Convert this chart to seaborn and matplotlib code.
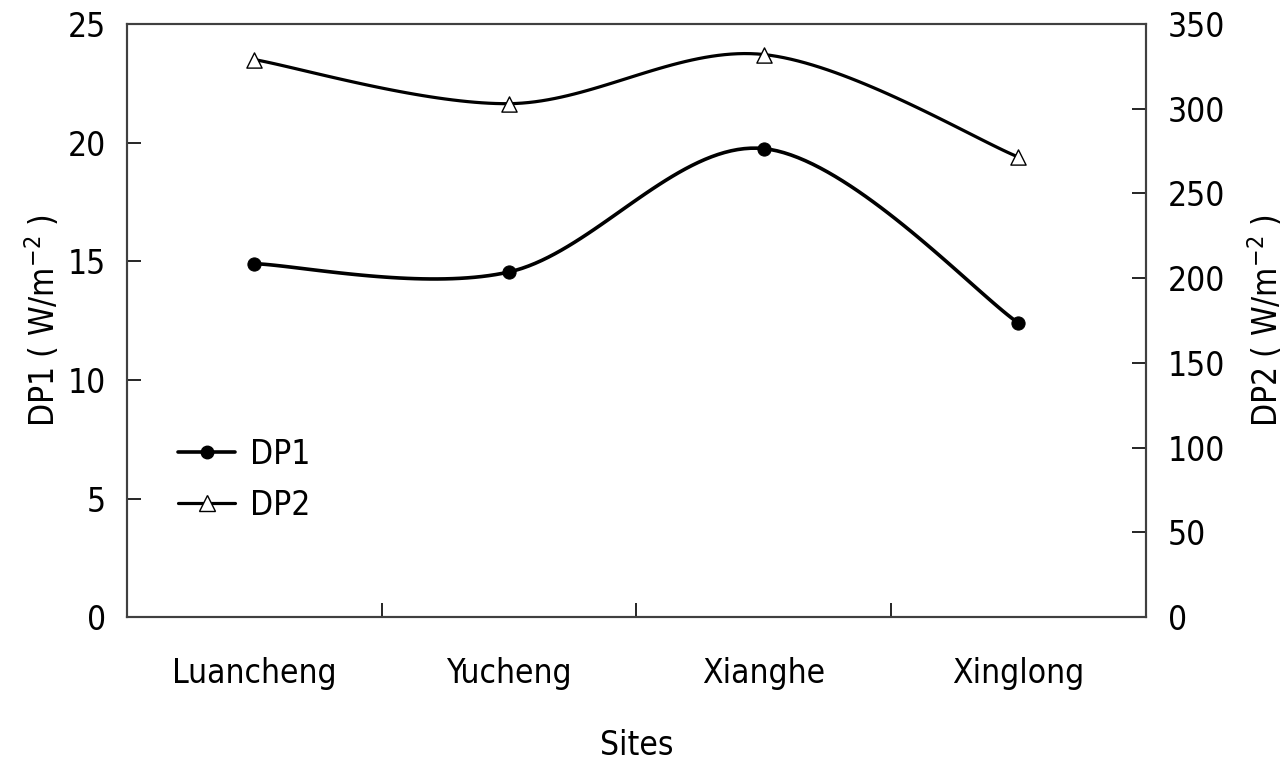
import numpy as np
import pandas as pd
import matplotlib
matplotlib.use('Agg')
import matplotlib.pyplot as plt
from matplotlib.lines import Line2D
import seaborn as sns

# data
sites = ['Luancheng', 'Yucheng', 'Xianghe', 'Xinglong']
dp1 = [14.9, 14.55, 19.75, 12.4]     # W/m2, left axis
dp2 = [329.0, 303.0, 332.0, 271.5]   # W/m2, right axis


def smooth_curve(xs, ys, n=40):
    """Excel-like smoothed line: cubic Bezier through the points with
    Catmull-Rom control points (tension 1/6)."""
    pts = np.column_stack([xs, ys]).astype(float)
    ext = np.vstack([pts[0], pts, pts[-1]])
    out = []
    t = np.linspace(0, 1, n)[:, None]
    for i in range(1, len(ext) - 2):
        p0, p1, p2, p3 = ext[i - 1], ext[i], ext[i + 1], ext[i + 2]
        c1 = p1 + (p2 - p0) / 6.0
        c2 = p2 - (p3 - p1) / 6.0
        seg = ((1 - t) ** 3) * p1 + 3 * ((1 - t) ** 2) * t * c1 \
            + 3 * (1 - t) * t ** 2 * c2 + t ** 3 * p2
        out.append(seg if i == 1 else seg[1:])
    out = np.vstack(out)
    return out[:, 0], out[:, 1]


sns.set_style('white')
plt.rcParams['font.family'] = ['DejaVu Sans']
plt.rcParams['font.stretch'] = 'condensed'
plt.rcParams['text.color'] = 'black'
plt.rcParams['axes.labelcolor'] = 'black'
plt.rcParams['xtick.color'] = 'black'
plt.rcParams['ytick.color'] = 'black'
fs = 24

fig = plt.figure(figsize=(12.83, 7.62), dpi=100)
ax = fig.add_axes([0.099, 0.190, 0.794, 0.7785])
ax2 = ax.twinx()

xpos = np.arange(len(sites))
df = pd.DataFrame({'site': sites, 'x': xpos, 'DP1': dp1, 'DP2': dp2})

# DP1 on left axis
sx, sy = smooth_curve(df['x'], df['DP1'])
sns.lineplot(x=sx, y=sy, ax=ax, color='black', lw=2.6, sort=False,
             estimator=None)
sns.scatterplot(data=df, x='x', y='DP1', ax=ax, color='black', s=90,
                marker='o', edgecolor='black', zorder=5)

# DP2 on right axis
sx2, sy2 = smooth_curve(df['x'], df['DP2'])
sns.lineplot(x=sx2, y=sy2, ax=ax2, color='black', lw=2.3, sort=False,
             estimator=None)
sns.scatterplot(data=df, x='x', y='DP2', ax=ax2, color='white', s=120,
                marker='^', edgecolor='black', linewidth=1.0, zorder=5)

ax.set_xlim(-0.5, len(sites) - 0.5)
ax.set_ylim(0, 25)
ax2.set_ylim(0, 350)
ax.set_yticks(np.arange(0, 26, 5))
ax2.set_yticks(np.arange(0, 351, 50))

# category labels centred, tick marks on the boundaries
ax.set_xticks(xpos)
ax.set_xticklabels(sites, fontsize=fs)
ax.set_xticks(np.arange(0.5, len(sites) - 1, 1.0), minor=True)
ax.tick_params(axis='x', which='major', bottom=True, length=0, pad=29)
ax.tick_params(axis='x', which='minor', bottom=True, direction='in',
               length=10, width=1.2, color='black')
ax.tick_params(axis='y', left=True, direction='in', length=10, width=1.2,
               color='black', labelsize=fs, pad=15)
ax2.tick_params(axis='y', right=True, direction='in', length=10, width=1.2,
                color='black', labelsize=fs, pad=16)

ax.set_xlabel('Sites', fontsize=fs, labelpad=28)
ax.set_ylabel('DP1 ( W/m$^{-2}$ )', fontsize=fs, labelpad=4)
ax2.set_ylabel('DP2 ( W/m$^{-2}$ )', fontsize=fs, labelpad=15)

for a in (ax, ax2):
    for sp in a.spines.values():
        sp.set_color('#404040')
        sp.set_linewidth(1.5)
        sp.set_visible(True)

handles = [
    Line2D([0], [0], color='black', lw=2.6, marker='o', markersize=9,
           markerfacecolor='black'),
    Line2D([0], [0], color='black', lw=2.3, marker='^', markersize=11,
           markerfacecolor='white', markeredgecolor='black'),
]
ax.legend(handles, ['DP1', 'DP2'], loc='lower left',
          bbox_to_anchor=(0.021, 0.11), frameon=False, fontsize=fs,
          handlelength=1.7, handletextpad=0.45, labelspacing=0.55)

fig.savefig('out.png', dpi=100)
plt.close(fig)
